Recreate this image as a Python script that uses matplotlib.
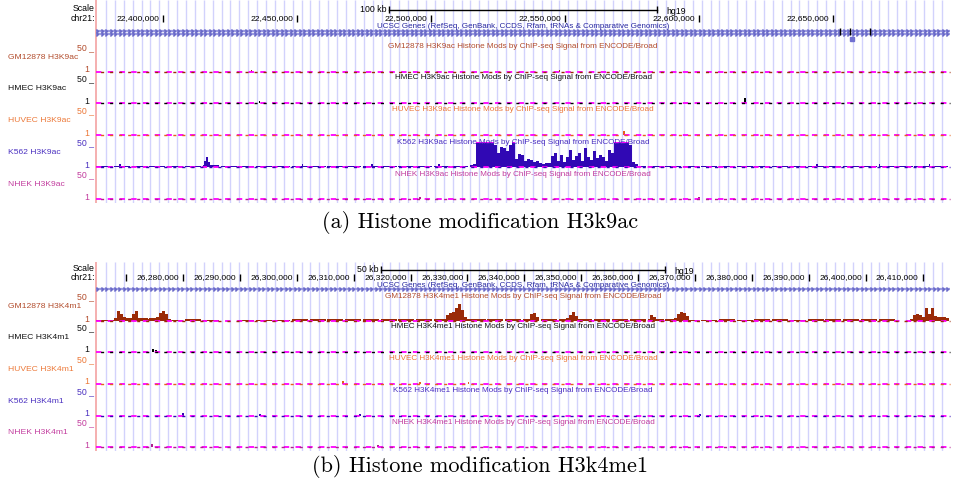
import numpy as np
import matplotlib.pyplot as plt

plt.rcParams['font.family'] = ['Liberation Sans', 'DejaVu Sans']

# ---- values (chr21, hg19) ----
cells = ['GM12878', 'HMEC', 'HUVEC', 'K562', 'NHEK']
cell_colors = ['#9a2a08', '#000000', '#e2621c', '#3008b4', '#b0208c']
label_colors = ['#b24c2c', '#111111', '#ec7838', '#4a30c0', '#c23c9e']

# (a) H3K9ac window, kb
a_view_kb = [22375.0, 22693.65]
a_ticks_kb = [22400, 22450, 22500, 22550, 22600, 22650]
a_tick_labels = ['22,400,000', '22,450,000', '22,500,000', '22,550,000', '22,600,000', '22,650,000']
a_scale_kb = 100
a_gene_mark_kb = [22652.5, 22656.2, 22663.7]

# low background signal, 48 equal bins across the window (0-50 scale)
a_gm_level = [1, 1, 0, 1, 1, 1, 1, 0, 1, 1, 1, 1, 1, 0, 1, 1, 1, 1, 0, 1, 1, 1, 1, 1,
              1, 1, 0, 1, 1, 1, 1, 1, 0, 1, 1, 1, 1, 1, 1, 0, 1, 1, 1, 1, 1, 0, 1, 1]
a_hmec_level = [1, 1, 1, 0, 1, 1, 1, 1, 1, 0, 1, 1, 1, 0, 1, 1, 1, 1, 1, 1, 0, 1, 1, 1,
                1, 1, 1, 0, 1, 1, 1, 1, 1, 1, 0, 1, 1, 1, 1, 1, 1, 1, 0, 1, 1, 1, 1, 1]
a_huvec_level = [1, 0, 1, 1, 0, 1, 1, 1, 0, 1, 1, 0, 1, 1, 1, 0, 1, 1, 1, 1, 1, 0, 1, 1,
                 1, 1, 1, 1, 1, 0, 1, 1, 0, 1, 1, 1, 1, 1, 0, 1, 1, 1, 1, 1, 1, 0, 1, 1]
a_k562_level = [3, 3, 2, 3, 3, 3, 4, 3, 3, 2, 3, 3, 3, 2, 3, 3, 3, 3, 2, 3, 3, 3, 3, 3,
                3, 2, 0, 3, 3, 3, 2, 3, 3, 3, 3, 2, 3, 3, 3, 3, 2, 3, 3, 3, 3, 3, 3, 3]
a_nhek_level = [1, 1, 0, 1, 1, 1, 1, 1, 0, 1, 1, 1, 1, 1, 1, 1, 0, 1, 1, 1, 1, 1, 1, 1,
                1, 1, 1, 1, 1, 1, 0, 1, 1, 1, 1, 1, 1, 1, 1, 1, 1, 1, 1, 1, 0, 1, 1, 1]

# isolated spikes
a_gm_peak_kb = [22433.0, 22548.0]
a_gm_peak_val = [4, 4]
a_hmec_peak_kb = [22436.0, 22617.1]
a_hmec_peak_val = [5, 9]
a_huvec_peak_kb = [22572.0]
a_huvec_peak_val = [9]
a_k562_peak_kb = [22384.0, 22415.7, 22416.4, 22417.2, 22452.0, 22478.0, 22503.0,
                  22644.0, 22667.4, 22686.0]
a_k562_peak_val = [6, 12, 20, 10, 6, 6, 7, 6, 7, 6]
a_nhek_peak_kb = [22496.0, 22600.0]
a_nhek_peak_val = [5, 4]

# K562 H3K9ac enriched domain, sampled every 1.119 kb from 22514.5 kb
a_k562_dense_start_kb = 22514.5
a_k562_dense_step_kb = 1.119
a_k562_dense_val = [5, 6, 50, 50, 50, 50, 50, 50, 45, 29, 40, 38, 33, 45, 50, 17, 27, 25,
                    12, 16, 14, 10, 12, 8, 7, 9, 8, 22, 28, 12, 25, 10, 20, 35, 15, 22,
                    28, 12, 38, 20, 14, 32, 18, 24, 20, 12, 35, 28, 50, 50, 50, 50, 50,
                    45, 10, 6]

# (b) H3K4me1 window, kb
b_view_kb = [26264.71, 26414.80]
b_ticks_kb = [26270, 26280, 26290, 26300, 26310, 26320, 26330, 26340, 26350, 26360,
              26370, 26380, 26390, 26400, 26410]
b_tick_labels = ['', '26,280,000', '26,290,000', '26,300,000', '26,310,000', '26,320,000',
                 '26,330,000', '26,340,000', '26,350,000', '26,360,000', '26,370,000',
                 '26,380,000', '26,390,000', '26,400,000', '26,410,000']
b_scale_kb = 50

b_gm_level = [3, 6, 6, 6, 3, 4, 3, 0, 2, 3, 3, 5, 4, 4, 5, 5, 4, 4, 4, 5, 5, 4, 4, 4,
              4, 5, 5, 4, 4, 4, 5, 5, 5, 3, 3, 4, 2, 4, 5, 3, 4, 4, 5, 4, 4, 0, 6, 6]
b_hmec_level = [1, 1, 1, 1, 1, 0, 1, 1, 1, 1, 1, 0, 0, 1, 1, 0, 1, 1, 0, 1, 1, 1, 0, 1,
                1, 1, 1, 0, 1, 1, 1, 1, 0, 1, 1, 1, 0, 1, 1, 1, 1, 0, 1, 1, 1, 0, 1, 1]
b_huvec_level = [1, 1, 1, 1, 1, 1, 1, 0, 1, 0, 1, 1, 1, 1, 1, 1, 1, 1, 1, 1, 0, 1, 1, 0,
                 1, 1, 1, 1, 1, 1, 1, 1, 1, 0, 1, 1, 1, 1, 1, 1, 0, 1, 1, 1, 1, 1, 0, 1]
b_k562_level = [1, 1, 1, 1, 1, 0, 1, 0, 1, 1, 0, 1, 1, 1, 1, 1, 1, 1, 1, 1, 1, 1, 0, 1,
                1, 1, 1, 1, 1, 1, 1, 1, 1, 1, 0, 1, 1, 1, 1, 1, 1, 1, 1, 0, 1, 1, 1, 1]
b_nhek_level = [1, 0, 1, 1, 1, 1, 1, 0, 1, 0, 1, 1, 1, 0, 1, 1, 1, 1, 1, 1, 1, 0, 1, 1,
                1, 1, 1, 0, 1, 1, 1, 1, 1, 1, 0, 1, 1, 1, 1, 1, 1, 1, 0, 1, 1, 1, 1, 1]

b_gm_peak_kb = []
b_gm_peak_val = []
b_hmec_peak_kb = [26274.7, 26275.3, 26320.5]
b_hmec_peak_val = [7, 5, 3]
b_huvec_peak_kb = [26308.1, 26321.7, 26330.2]
b_huvec_peak_val = [7, 5, 4]
b_k562_peak_kb = [26280.0, 26293.5, 26311.1, 26370.9]
b_k562_peak_val = [7, 5, 5, 4]
b_nhek_peak_kb = [26274.5, 26314.3]
b_nhek_peak_val = [7, 5]

# GM12878 H3K4me1 peak clusters, sampled every 0.527 kb
b_gm_dense_step_kb = 0.527
b_gm_dense_start_kb = [26267.35, 26325.70, 26340.46, 26347.31, 26362.08, 26366.29, 26407.77]
b_gm_dense_val = [[3, 5, 20, 15, 8, 6, 7, 14, 20, 7, 5, 6, 4, 7, 6, 8, 17, 21, 15, 4],
                  [5, 12, 17, 19, 26, 34, 22, 8, 4],
                  [5, 14, 17, 8],
                  [6, 12, 19, 11, 5],
                  [12, 8],
                  [6, 14, 19, 17, 10],
                  [4, 12, 14, 13, 8, 27, 14, 26, 10, 9, 8, 9, 6]]

# ---- drawing ----
W, H = 955, 487
X0, X1 = 96, 950
fig = plt.figure(figsize=(W / 100, H / 100), dpi=100)


def to_fig(x0, y0, x1, y1):
    return [x0 / W, 1 - y1 / H, (x1 - x0) / W, (y1 - y0) / H]


def fy(y):
    return 1 - y / H


def draw_panel(view, ticks, tick_labels, scale_kb, top, bottom, scale_y, row_y,
               gene_title_y, gene_rows, gene_marks, track_tops, levels, peaks, dense,
               mark, title_mark, caption, cap_y):
    kpp = (view[1] - view[0]) / (X1 - X0)
    bg = fig.add_axes(to_fig(X0, top, X1, bottom))
    bg.set_xlim(view)
    bg.set_ylim(bottom, top)
    bg.axis('off')

    # light blue guide lines + pink left border
    grid_px = np.arange(106, X1, 8.89)
    bg.vlines(view[0] + (grid_px - X0) * kpp, bottom, top, color='#d2d2fc', lw=1)
    bg.vlines(view[0], bottom, top, color='#f4a2a2', lw=1.2, clip_on=False)

    fig.text(95 / W, fy(scale_y - 1), 'Scale', ha='right', va='center', fontsize=6.3)
    fig.text(95 / W, fy(row_y), 'chr21:', ha='right', va='center', fontsize=6.3)

    # scale bar
    c = sum(view) / 2
    s0, s1 = c - scale_kb / 2, c + scale_kb / 2
    bg.plot([s0, s1], [scale_y, scale_y], color='k', lw=1)
    bg.vlines([s0, s1], scale_y - 4, scale_y + 3, color='k', lw=1)
    bg.annotate(f'{scale_kb} kb', (s0, scale_y), xytext=(-2, 0), textcoords='offset pixels',
                ha='right', va='center', fontsize=6.3)
    bg.annotate('hg19', (s1, scale_y + 1.5), xytext=(9, 0), textcoords='offset pixels',
                ha='left', va='center', fontsize=6.3)

    # coordinate ticks
    for kb, lab in zip(ticks, tick_labels):
        bg.vlines(kb, row_y - 4, row_y + 3, color='k', lw=1)
        if lab:
            bg.annotate(lab, (kb, row_y), xytext=(-4, 0), textcoords='offset pixels',
                        ha='right', va='center', fontsize=6.1)

    # gene track
    gt = bg.text(c, gene_title_y, 'UCSC Genes (RefSeq, GenBank, CCDS, Rfam, tRNAs & Comparative Genomics)',
                 ha='center', va='center', fontsize=5.8, color='#2828a0')
    fig.canvas.draw()
    bb = gt.get_window_extent().transformed(bg.transData.inverted())
    bg.plot([bb.x0, bb.x1], [gene_title_y + 3.5] * 2, color='#2828a0', lw=0.6)
    arrows = np.arange(view[0] + 2 * kpp, view[1], 4.5 * kpp)
    for gy in gene_rows:
        bg.plot(view, [gy, gy], color='#9a9ae0', lw=1.6)
        bg.plot(arrows, [gy] * len(arrows), ls='none', marker=5, ms=2.3, color='#6a6ac8')
    if gene_marks:
        bg.vlines(gene_marks, gene_rows[0] - 3, gene_rows[-1] + 1, color='k', lw=1)
        bg.plot([gene_marks[1] + 0.8], [gene_rows[-1] + 4.5], ls='none', marker='s', ms=2.5,
                color='#7070d0')

    # signal tracks
    for i, cell in enumerate(cells):
        t = track_tops[i]
        b = t + 25
        col, lcol = cell_colors[i], label_colors[i]
        ax = fig.add_axes(to_fig(X0, t, X1, b))
        ax.set_xlim(view)
        ax.set_ylim(0, 50)
        ax.axis('off')
        ax.patch.set_alpha(0)

        ax.plot(view, [0.6, 0.6], color='#ff00ff', lw=1.3, ls=(0, (3, 3.5)), clip_on=False)
        ax.plot(view, [0.6, 0.6], color=col, lw=1.0, ls=(3.2, (2.2, 4.3)), clip_on=False)

        edges = np.linspace(view[0], view[1], len(levels[i]) + 1)
        ax.bar(edges[:-1], levels[i], width=np.diff(edges) * 0.9, align='edge', color=col,
               linewidth=0)
        pk, pv = peaks[i]
        if pk:
            ax.bar(pk, pv, width=1.6 * kpp, color=col, linewidth=0)
        for start, step, vals in dense[i]:
            xs = start + step * np.arange(len(vals))
            ax.bar(xs, vals, width=step, align='edge', color=col, linewidth=0)
            sat = [x for x, v in zip(xs, vals) if v >= 50]
            if sat:
                ax.bar(sat, [2.5] * len(sat), bottom=48.5, width=step, align='edge',
                       color='#ff00ff', linewidth=0)

        ax.text(0.5, 1.0, f'{cell} {title_mark} Histone Mods by ChIP-seq Signal from ENCODE/Broad',
                transform=ax.transAxes, ha='center', va='center', fontsize=5.9, color=lcol)
        fig.text(8 / W, fy(t + 10.5), f'{cell} {mark}', ha='left', va='center',
                 fontsize=6.1, color=lcol)
        fig.text(94 / W, fy(t + 0.5), '50 _', ha='right', va='center', fontsize=6.3, color=lcol)
        fig.text(89 / W, fy(b - 2), '1', ha='right', va='center', fontsize=6.3, color=lcol)

    fig.text(480 / W, fy(cap_y), caption, family='cmr10', fontsize=16, ha='center',
             va='center')


a_levels = [a_gm_level, a_hmec_level, a_huvec_level, a_k562_level, a_nhek_level]
a_peaks = [(a_gm_peak_kb, a_gm_peak_val), (a_hmec_peak_kb, a_hmec_peak_val),
           (a_huvec_peak_kb, a_huvec_peak_val), (a_k562_peak_kb, a_k562_peak_val),
           (a_nhek_peak_kb, a_nhek_peak_val)]
a_dense = [[], [], [], [(a_k562_dense_start_kb, a_k562_dense_step_kb, a_k562_dense_val)], []]

b_levels = [b_gm_level, b_hmec_level, b_huvec_level, b_k562_level, b_nhek_level]
b_peaks = [(b_gm_peak_kb, b_gm_peak_val), (b_hmec_peak_kb, b_hmec_peak_val),
           (b_huvec_peak_kb, b_huvec_peak_val), (b_k562_peak_kb, b_k562_peak_val),
           (b_nhek_peak_kb, b_nhek_peak_val)]
b_dense = [[(s, b_gm_dense_step_kb, v) for s, v in zip(b_gm_dense_start_kb, b_gm_dense_val)],
           [], [], [], []]

draw_panel(a_view_kb, a_ticks_kb, a_tick_labels, a_scale_kb, 0, 203, 9.5, 18.5, 26.8,
           [31, 34], a_gene_mark_kb, [47, 78, 110, 142, 174], a_levels, a_peaks, a_dense,
           'H3K9ac', 'H3K9ac', '(a) Histone modification H3k9ac', 222)
draw_panel(b_view_kb, b_ticks_kb, b_tick_labels, b_scale_kb, 262, 451, 269.5, 277.5, 285.3,
           [289], [], [296, 327, 359, 391, 422], b_levels, b_peaks, b_dense,
           'H3K4m1', 'H3K4me1', '(b) Histone modification H3k4me1', 466)

fig.savefig('out.png', dpi=100)
